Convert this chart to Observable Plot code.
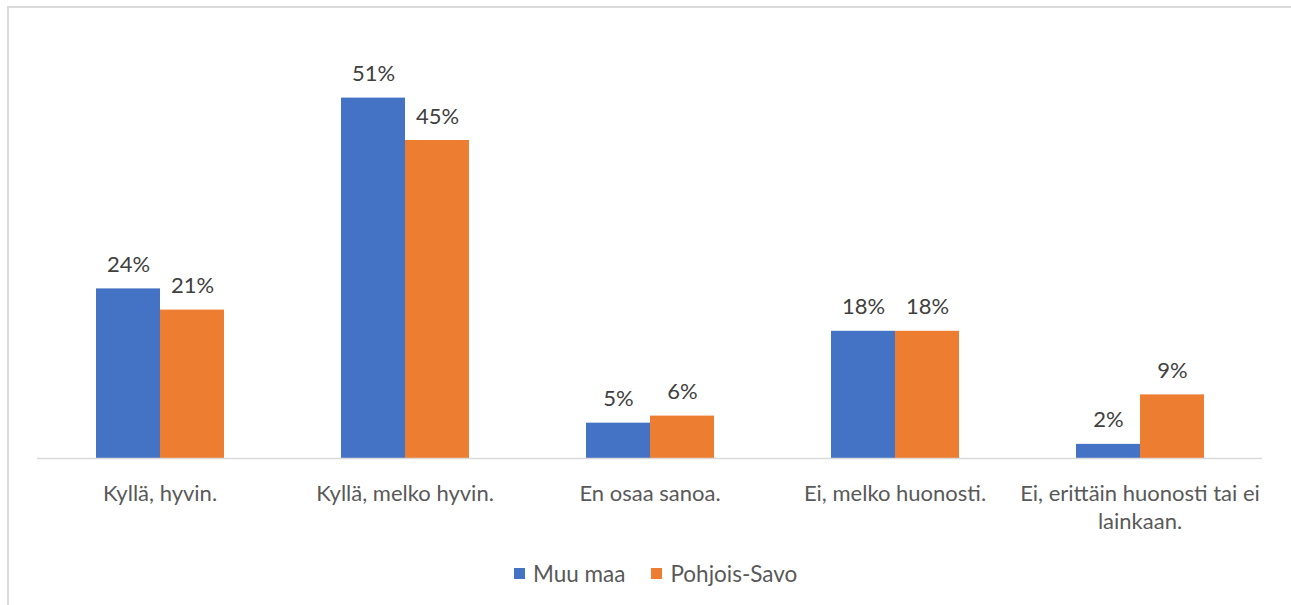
<!DOCTYPE html>
<html>
<head>
<meta charset="utf-8">
<script src="https://cdn.jsdelivr.net/npm/d3@7"></script>
<script src="https://cdn.jsdelivr.net/npm/@observablehq/plot@0.6"></script>
<style>
  body { margin: 0; background: #fff; font-family: Lato, sans-serif; width: 1291px; height: 605px; overflow: hidden; position: relative; }
  #frame { position: absolute; left: 7px; top: 6px; width: 1300px; height: 620px; border-left: 2px solid #d9d9d9; border-top: 2px solid #d9d9d9; box-sizing: border-box; }
  #chart { position: absolute; left: 0; top: 0; }
  #legend { position: absolute; left: 514px; top: 560px; display: flex; align-items: center; font-size: 22.5px; color: #595959; }
  .item { display: flex; align-items: center; margin-right: 26px; }
  .sw { width: 11px; height: 11px; margin-right: 8px; }
</style>
</head>
<body>
<div id="frame"></div>
<div id="chart"></div>
<div id="legend"></div>
<script>
const categories = ["Kyllä, hyvin.", "Kyllä, melko hyvin.", "En osaa sanoa.", "Ei, melko huonosti.", "Ei, erittäin huonosti tai ei lainkaan."];
const series = ["Muu maa", "Pohjois-Savo"];
const muuMaa = [24, 51, 5, 18, 2];
const pohjoisSavo = [21, 45, 6, 18, 9];
const colors = ["#4472C4", "#ED7D31"];

const data = categories.flatMap((c, i) => [
  {category: c, series: series[0], value: muuMaa[i]},
  {category: c, series: series[1], value: pohjoisSavo[i]}
]);

function wrap(s, max = 28) {
  const words = s.split(" ");
  const lines = [];
  let cur = "";
  for (const w of words) {
    const t = cur ? cur + " " + w : w;
    if (t.length > max && cur) { lines.push(cur); cur = w; } else cur = t;
  }
  if (cur) lines.push(cur);
  return lines.join("\n");
}

const chart = Plot.plot({
  width: 1291,
  height: 540,
  marginLeft: 36,
  marginRight: 29,
  marginTop: 34,
  marginBottom: 82,
  fx: {domain: categories, padding: 0, axis: null, label: null},
  x: {domain: series, axis: null, paddingInner: 0, paddingOuter: 0.907},
  y: {domain: [0, 60], axis: null},
  color: {domain: series, range: colors},
  style: {fontFamily: "Lato, sans-serif", background: "transparent"},
  marks: [
    Plot.barY(data, {fx: "category", x: "series", y: "value", fill: "series"}),
    Plot.ruleY([0], {stroke: "#d9d9d9", strokeWidth: 1.5}),
    Plot.text(data, {fx: "category", x: "series", y: "value", text: d => d.value + "%", dy: -17, lineAnchor: "bottom", fontSize: 22, fill: "#404040"}),
    Plot.axisFx({anchor: "bottom", tickSize: 0, tickPadding: 23, fontSize: 22, color: "#595959", tickFormat: d => wrap(d), lineHeight: 28 / 22, label: null})
  ]
});
document.getElementById("chart").appendChild(chart);

const legend = document.getElementById("legend");
series.forEach((s, i) => {
  const item = document.createElement("div");
  item.className = "item";
  const sw = document.createElement("div");
  sw.className = "sw";
  sw.style.background = colors[i];
  const label = document.createElement("span");
  label.textContent = s;
  item.appendChild(sw);
  item.appendChild(label);
  legend.appendChild(item);
});
</script>
</body>
</html>
